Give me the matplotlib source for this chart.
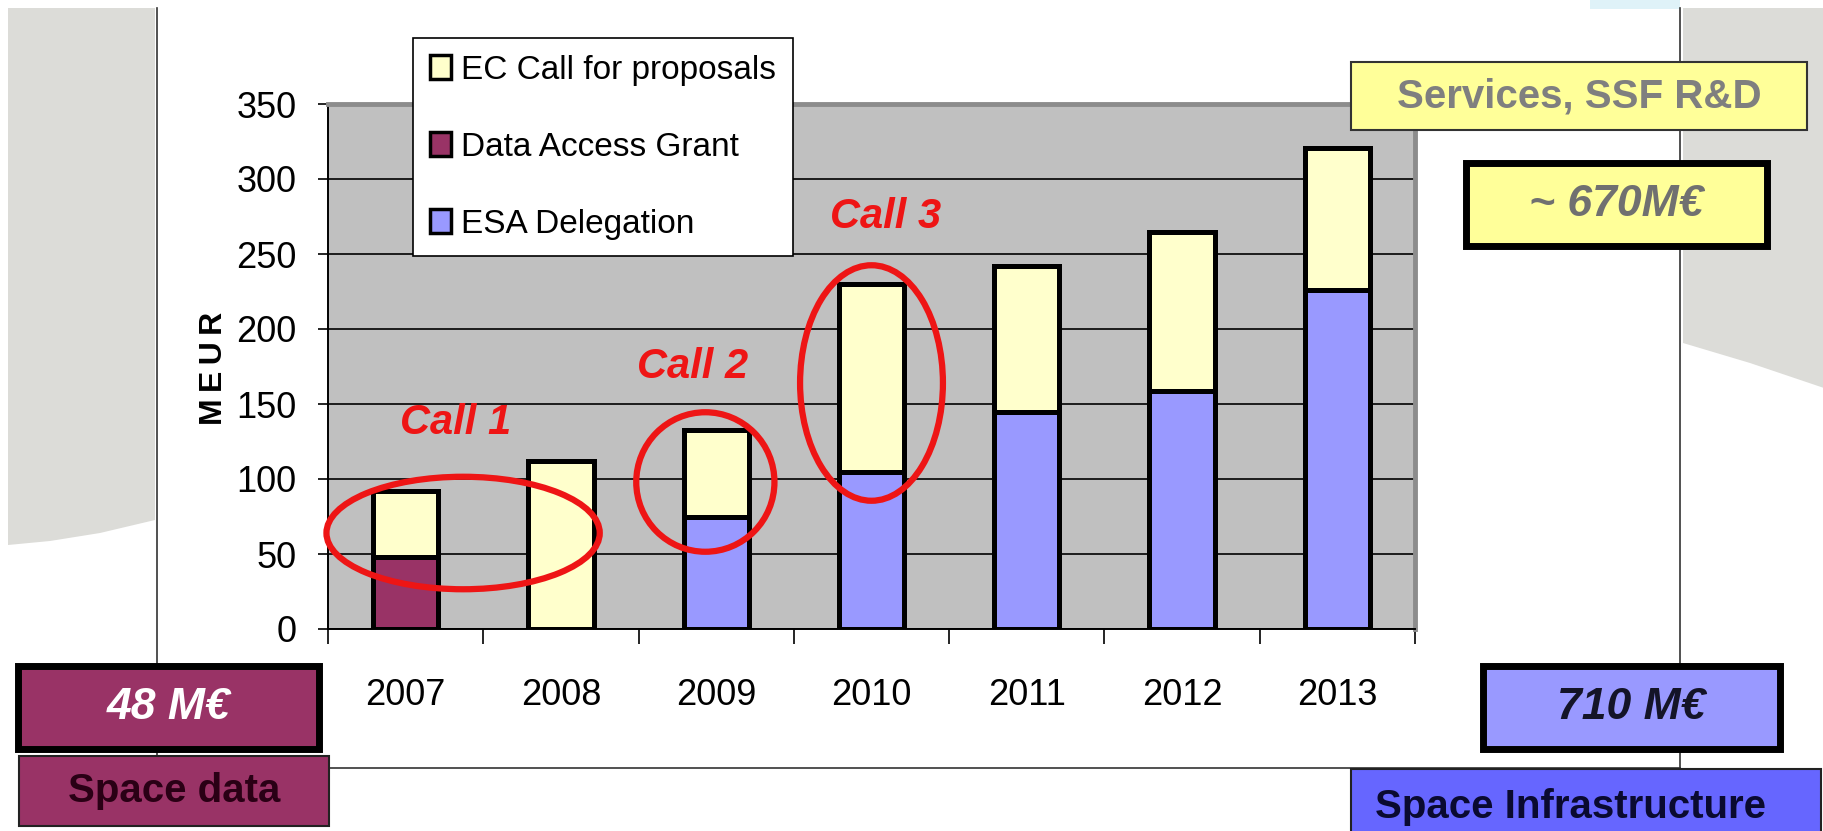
import numpy as np
import matplotlib
matplotlib.use("Agg")
import matplotlib.pyplot as plt
from matplotlib.patches import Rectangle, Ellipse, Polygon, Patch

plt.rcParams['font.family'] = ['Liberation Sans', 'DejaVu Sans']

# data (MEUR)
years = ["2007", "2008", "2009", "2010", "2011", "2012", "2013"]
data_access = [48, 0, 0, 0, 0, 0, 0]
esa_delegation = [0, 0, 75, 105, 145, 159, 226]
ec_calls = [44, 112, 58, 125, 97, 106, 95]
series_labels = ["EC Call for proposals", "Data Access Grant", "ESA Delegation"]
y_ticks = [0, 50, 100, 150, 200, 250, 300, 350]
call_labels = ["Call 1", "Call 2", "Call 3"]

W, H = 1824, 831
c_ec = "#ffffcc"
c_dag = "#993366"
c_esa = "#9999ff"
red = "#ee1515"

fig = plt.figure(figsize=(W / 100, H / 100), dpi=100)
fig.patch.set_facecolor("white")

# slide background (pixel coords)
bg = fig.add_axes([0, 0, 1, 1], zorder=-1)
bg.set_xlim(0, W)
bg.set_ylim(H, 0)
bg.axis("off")
gray = "#dcdcd8"
bg.add_patch(Polygon([(8, 8), (155, 8), (155, 520), (100, 533), (50, 541), (8, 545)],
                     closed=True, fc=gray, ec="none"))
bg.add_patch(Polygon([(1683, 8), (1824, 8), (1824, 388), (1750, 363), (1683, 343)],
                     closed=True, fc=gray, ec="none"))
bg.add_patch(Rectangle((1590, 0), 90, 9, fc="#dff2f8", ec="none"))
bg.plot([157, 157], [8, 768], color="#333333", lw=1.2)
bg.plot([1680, 1680], [8, 768], color="#333333", lw=1.2)
bg.plot([157, 1680], [768, 768], color="#333333", lw=1.2)

# chart
ax = fig.add_axes([328 / W, 1 - 629 / H, (1415 - 328) / W, (629 - 104) / H], zorder=1)
ax.set_facecolor("#c0c0c0")
x = np.arange(len(years))
bw = 0.42
dag = np.array(data_access)
esa = np.array(esa_delegation)
ec = np.array(ec_calls)

b1 = ax.bar(x, dag, bw, color=c_dag, edgecolor="black", lw=3.6, zorder=3)
b2 = ax.bar(x, esa, bw, color=c_esa, edgecolor="black", lw=3.6, zorder=3)
b3 = ax.bar(x, ec, bw, bottom=dag + esa, color=c_ec, edgecolor="black", lw=3.6, zorder=3)
for group in (b1, b2, b3):
    for r in group:
        if r.get_height() == 0:
            r.set_visible(False)

ax.set_xlim(-0.5, len(years) - 0.5)
ax.set_ylim(0, 350)
ax.set_yticks(y_ticks)
ax.set_yticklabels([str(v) for v in y_ticks], fontsize=26)
ax.yaxis.grid(True, color="black", lw=1.2)
ax.set_axisbelow(True)
ax.tick_params(axis="y", direction="out", length=7.5, width=1.2, pad=15)

ax.set_xticks(x)
ax.set_xticklabels(years, fontsize=26)
ax.set_xticks(np.arange(-0.5, len(years)), minor=True)
ax.tick_params(axis="x", which="major", length=0, pad=35)
ax.tick_params(axis="x", which="minor", direction="out", length=11, width=1.2)

for s in ("left", "bottom"):
    ax.spines[s].set_color("black")
    ax.spines[s].set_linewidth(1.4)
for s in ("top", "right"):
    ax.spines[s].set_color("#8c8c8c")
    ax.spines[s].set_linewidth(3.5)

fig.text(214 / W, 1 - 368 / H, "M\u2009E\u2009U\u2009R", rotation=90, fontsize=23,
         fontweight="bold", ha="center", va="center")

# call highlights
rings = [(0.37, 64, 1.76, 75), (1.93, 98, 0.89, 93), (3.0, 164, 0.92, 157)]
texts = [(0.32, 137), (1.85, 175), (3.09, 275)]
for (cx, cy, ew, eh), (tx, ty), lab in zip(rings, texts, call_labels):
    ax.add_patch(Ellipse((cx, cy), ew, eh, fill=False, ec=red, lw=4.5, zorder=4, clip_on=False))
    ax.text(tx, ty, lab, color=red, fontsize=30, fontweight="bold", fontstyle="italic",
            ha="center", va="center", zorder=4)

handles = [Patch(fc=c, ec="black", lw=2.5) for c in (c_ec, c_dag, c_esa)]
leg = fig.legend(handles, series_labels, loc="upper left",
                 bbox_to_anchor=(413 / W, 1 - 38 / H), frameon=True, fancybox=False,
                 edgecolor="black", framealpha=1, fontsize=24, handlelength=0.65,
                 handleheight=0.75, handletextpad=0.3, labelspacing=1.38,
                 borderpad=0.5, borderaxespad=0)
leg.get_frame().set_linewidth(1.2)

# side boxes (pixel coords, above the chart)
top = fig.add_axes([0, 0, 1, 1], zorder=5)
top.set_xlim(0, W)
top.set_ylim(H, 0)
top.axis("off")
top.patch.set_alpha(0)


def label_box(x0, y0, x1, y1, fc, lw, ec, text, tc, size, italic):
    inset = lw / 0.72 / 2
    top.add_patch(Rectangle((x0 + inset, y0 + inset), x1 - x0 - 2 * inset,
                            y1 - y0 - 2 * inset, fc=fc, ec=ec, lw=lw))
    top.text((x0 + x1) / 2, (y0 + y1) / 2, text, color=tc, fontsize=size,
             fontweight="bold", fontstyle="italic" if italic else "normal",
             ha="center", va="center")


label_box(1350, 61, 1808, 131, "#ffff99", 1.5, "#333333", "Services, SSF R&D", "#7f7f7f", 29, False)
label_box(1463, 160, 1770, 249, "#ffff99", 5, "black", "~ 670M€", "#707070", 32, True)
label_box(15, 663, 322, 752, c_dag, 5, "black", "48 M€", "white", 32, True)
label_box(18, 755, 330, 827, c_dag, 1.5, "#222222", "Space data", "#2a0015", 29, False)
label_box(1480, 663, 1783, 752, c_esa, 5, "black", "710 M€", "#141428", 32, True)
label_box(1350, 768, 1822, 845, "#6666ff", 1.5, "#222222", "", "black", 29, False)
top.text(1571, 807, "Space Infrastructure", color="#0a0a30", fontsize=29,
         fontweight="bold", ha="center", va="center")

fig.savefig("out.png", dpi=100)
